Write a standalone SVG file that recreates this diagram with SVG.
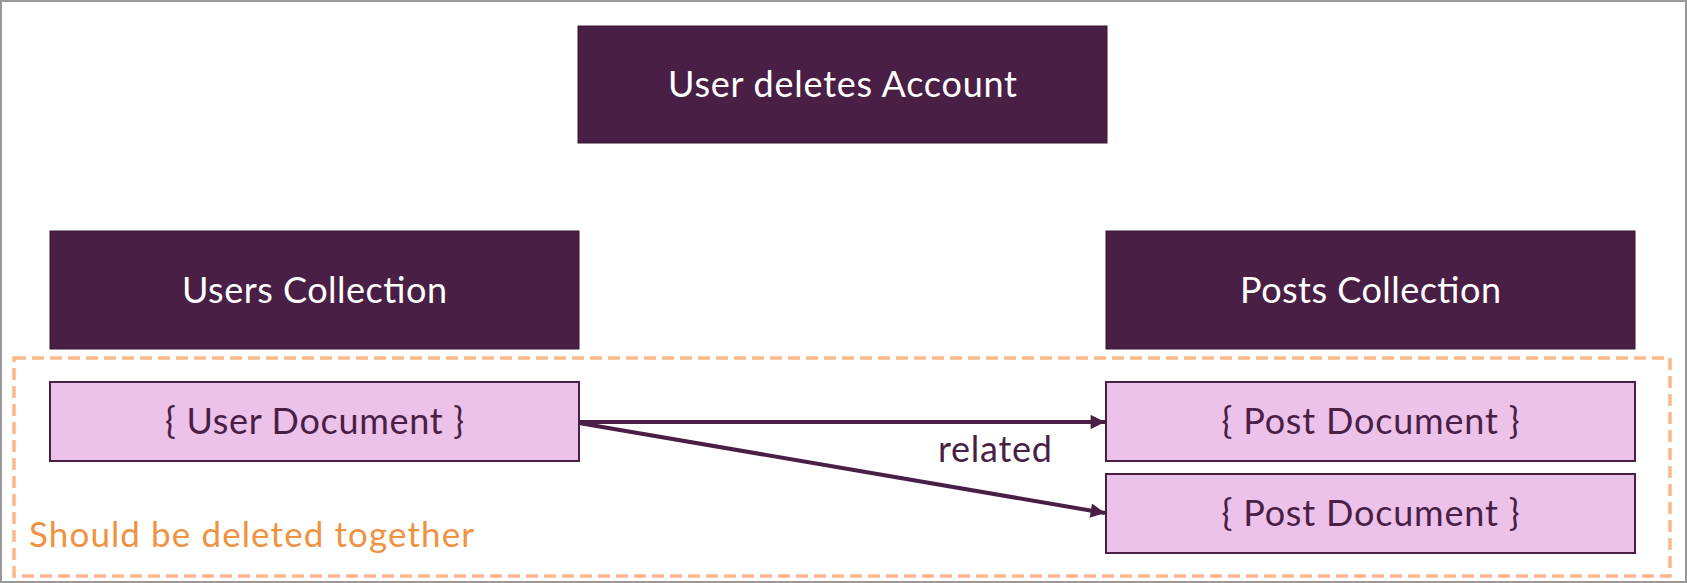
<svg xmlns="http://www.w3.org/2000/svg" width="1687" height="583" viewBox="0 0 1687 583">
<style>
.hdr{fill:#4a1f46;stroke:#3a1636;stroke-width:1}
.doc{fill:#ecc1ea;stroke:#4a1f46;stroke-width:2}
.t{font-family:Lato,"Open Sans",sans-serif;font-size:36px;text-anchor:middle}
.w{fill:#ffffff}
.d{fill:#4a1f46}
.conn{stroke:#4a1f46;stroke-width:4;fill:none}
</style>
<defs>
<marker id="ah" viewBox="0 0 10 10" refX="10" refY="5" markerWidth="4.5" markerHeight="3.6" markerUnits="strokeWidth" orient="auto">
<path d="M0,0 L10,5 L0,10 z" fill="#4a1f46"/>
</marker>
</defs>
<rect x="0" y="0" width="1687" height="583" fill="#ffffff"/>
<rect x="1" y="1" width="1685" height="581" fill="none" stroke="#999999" stroke-width="2"/>

<g id="group-together">
<rect x="14" y="358" width="1656" height="218" fill="none" stroke="#f9b98a" stroke-width="3.5" stroke-dasharray="12 6"/>
<text x="29" y="547" style="font-family:Lato,'Open Sans',sans-serif;font-size:35px;fill:#f0923f" textLength="445">Should be deleted together</text>
</g>

<g id="user-deletes-account">
<rect class="hdr" x="578" y="26" width="529" height="117"/>
<text class="t w" x="842.5" y="97" textLength="349">User deletes Account</text>
</g>

<g id="users-collection">
<rect class="hdr" x="50" y="231" width="529" height="118"/>
<text class="t w" x="314.5" y="303" textLength="265">Users Collection</text>
</g>

<g id="posts-collection">
<rect class="hdr" x="1106" y="231" width="529" height="118"/>
<text class="t w" x="1370.5" y="303" textLength="261">Posts Collection</text>
</g>

<g id="user-document">
<rect class="doc" x="50" y="382" width="529" height="79"/>
<text class="t d" x="314.5" y="434" textLength="299">{ User Document }</text>
</g>

<g id="post-document-1">
<rect class="doc" x="1106" y="382" width="529" height="79"/>
<text class="t d" x="1370.5" y="434" textLength="298">{ Post Document }</text>
</g>

<g id="post-document-2">
<rect class="doc" x="1106" y="474" width="529" height="79"/>
<text class="t d" x="1370.5" y="526" textLength="298">{ Post Document }</text>
</g>

<g id="connectors">
<line class="conn" x1="579" y1="422" x2="1105" y2="422" marker-end="url(#ah)"/>
<line class="conn" x1="579" y1="423" x2="1105" y2="513" marker-end="url(#ah)"/>
<text class="t d" x="995" y="462" textLength="114">related</text>
</g>
</svg>
